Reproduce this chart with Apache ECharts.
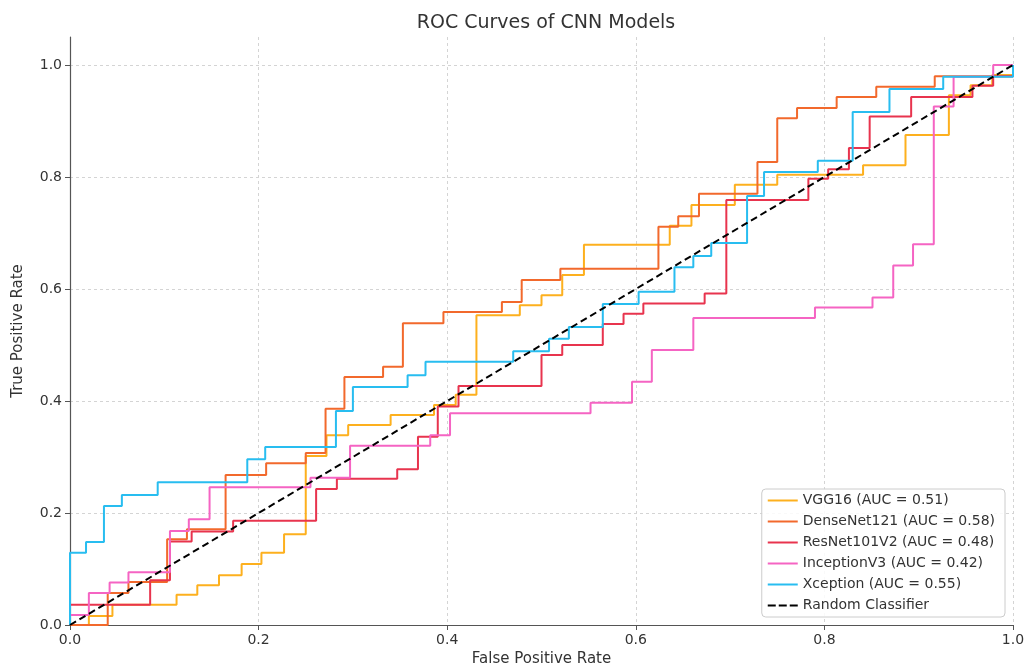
<!DOCTYPE html>
<html>
<head>
<meta charset="utf-8">
<script src="https://cdn.jsdelivr.net/npm/echarts@6/dist/echarts.min.js"></script>
<style>html,body{margin:0;padding:0;background:#fff}#c{width:1027px;height:666px}</style>
</head>
<body>
<div id="c"></div>
<script>
const titleText = 'ROC Curves of CNN Models';
const xTicks = [0, 0.2, 0.4, 0.6, 0.8, 1.0];
const yTicks = [0, 0.2, 0.4, 0.6, 0.8, 1.0];
const seriesNames = ['VGG16 (AUC = 0.51)', 'DenseNet121 (AUC = 0.58)', 'ResNet101V2 (AUC = 0.48)', 'InceptionV3 (AUC = 0.42)', 'Xception (AUC = 0.55)', 'Random Classifier'];
const seriesColors = ['#FDB01E', '#F2692C', '#E8344E', '#F564C3', '#28BDF0', '#000000'];

const vgg16 = [[0,0],[0.02,0],[0.02,0.016],[0.045,0.016],[0.045,0.036],[0.113,0.036],[0.113,0.054],[0.135,0.054],[0.135,0.071],[0.158,0.071],[0.158,0.089],[0.182,0.089],[0.182,0.109],[0.203,0.109],[0.203,0.129],[0.227,0.129],[0.227,0.162],[0.25,0.162],[0.25,0.302],[0.272,0.302],[0.272,0.339],[0.295,0.339],[0.295,0.357],[0.34,0.357],[0.34,0.375],[0.386,0.375],[0.386,0.393],[0.409,0.393],[0.409,0.411],[0.431,0.411],[0.431,0.553],[0.477,0.553],[0.477,0.571],[0.5,0.571],[0.5,0.589],[0.522,0.589],[0.522,0.625],[0.545,0.625],[0.545,0.679],[0.636,0.679],[0.636,0.713],[0.659,0.713],[0.659,0.75],[0.705,0.75],[0.705,0.786],[0.75,0.786],[0.75,0.804],[0.841,0.804],[0.841,0.821],[0.886,0.821],[0.886,0.875],[0.932,0.875],[0.932,0.946],[0.955,0.946],[0.955,0.964],[0.978,0.964],[0.978,0.982],[1,0.982],[1,1]];

const densenet121 = [[0,0],[0.04,0],[0.04,0.057],[0.062,0.057],[0.062,0.077],[0.103,0.077],[0.103,0.153],[0.124,0.153],[0.124,0.171],[0.165,0.171],[0.165,0.268],[0.208,0.268],[0.208,0.289],[0.25,0.289],[0.25,0.307],[0.271,0.307],[0.271,0.386],[0.291,0.386],[0.291,0.443],[0.332,0.443],[0.332,0.461],[0.353,0.461],[0.353,0.539],[0.396,0.539],[0.396,0.559],[0.458,0.559],[0.458,0.577],[0.479,0.577],[0.479,0.616],[0.52,0.616],[0.52,0.636],[0.624,0.636],[0.624,0.711],[0.645,0.711],[0.645,0.73],[0.667,0.73],[0.667,0.77],[0.729,0.77],[0.729,0.827],[0.75,0.827],[0.75,0.905],[0.771,0.905],[0.771,0.923],[0.813,0.923],[0.813,0.943],[0.855,0.943],[0.855,0.961],[0.917,0.961],[0.917,0.98],[1,0.98],[1,1]];

const resnet101v2 = [[0,0],[0,0.036],[0.085,0.036],[0.085,0.08],[0.106,0.08],[0.106,0.149],[0.129,0.149],[0.129,0.167],[0.173,0.167],[0.173,0.186],[0.261,0.186],[0.261,0.243],[0.283,0.243],[0.283,0.261],[0.347,0.261],[0.347,0.278],[0.369,0.278],[0.369,0.336],[0.39,0.336],[0.39,0.39],[0.412,0.39],[0.412,0.427],[0.5,0.427],[0.5,0.482],[0.522,0.482],[0.522,0.5],[0.565,0.5],[0.565,0.5375],[0.587,0.5375],[0.587,0.556],[0.608,0.556],[0.608,0.574],[0.673,0.574],[0.673,0.592],[0.696,0.592],[0.696,0.759],[0.783,0.759],[0.783,0.797],[0.804,0.797],[0.804,0.814],[0.826,0.814],[0.826,0.852],[0.848,0.852],[0.848,0.908],[0.892,0.908],[0.892,0.943],[0.957,0.943],[0.957,0.963],[0.979,0.963],[0.979,0.98],[1,0.98],[1,1]];

const inceptionv3 = [[0,0],[0,0.018],[0.02,0.018],[0.02,0.057],[0.042,0.057],[0.042,0.076],[0.062,0.076],[0.062,0.094],[0.106,0.094],[0.106,0.168],[0.126,0.168],[0.126,0.189],[0.148,0.189],[0.148,0.246],[0.255,0.246],[0.255,0.263],[0.297,0.263],[0.297,0.32],[0.382,0.32],[0.382,0.339],[0.403,0.339],[0.403,0.378],[0.552,0.378],[0.552,0.397],[0.596,0.397],[0.596,0.4345],[0.617,0.4345],[0.617,0.491],[0.661,0.491],[0.661,0.548],[0.79,0.548],[0.79,0.567],[0.851,0.567],[0.851,0.585],[0.873,0.585],[0.873,0.642],[0.894,0.642],[0.894,0.68],[0.916,0.68],[0.916,0.926],[0.937,0.926],[0.937,0.979],[0.979,0.979],[0.979,1],[1,1]];

const xception = [[0,0],[0,0.129],[0.017,0.129],[0.017,0.148],[0.036,0.148],[0.036,0.2125],[0.055,0.2125],[0.055,0.232],[0.093,0.232],[0.093,0.255],[0.188,0.255],[0.188,0.296],[0.207,0.296],[0.207,0.318],[0.282,0.318],[0.282,0.382],[0.3,0.382],[0.3,0.425],[0.358,0.425],[0.358,0.446],[0.377,0.446],[0.377,0.47],[0.47,0.47],[0.47,0.489],[0.508,0.489],[0.508,0.511],[0.529,0.511],[0.529,0.532],[0.565,0.532],[0.565,0.573],[0.603,0.573],[0.603,0.595],[0.641,0.595],[0.641,0.639],[0.661,0.639],[0.661,0.659],[0.68,0.659],[0.68,0.682],[0.718,0.682],[0.718,0.766],[0.736,0.766],[0.736,0.809],[0.793,0.809],[0.793,0.829],[0.83,0.829],[0.83,0.916],[0.869,0.916],[0.869,0.957],[0.926,0.957],[0.926,0.979],[1,0.979],[1,1]];

const randomClassifier = [[0,0],[1,1]];

const allData = [vgg16, densenet121, resnet101v2, inceptionv3, xception, randomClassifier];

const chart = echarts.init(document.getElementById('c'), null, {renderer: 'canvas'});
const FONT = 'DejaVu Sans';
const SOLID_ICON = 'path://M0,0 H30 V2 H0 Z';
const DASH_ICON = 'path://M0,0 H8 V2 H0 Z M11,0 H19 V2 H11 Z M22,0 H30 V2 H22 Z';

const series = allData.map((d, i) => ({
  name: seriesNames[i],
  type: 'line',
  data: d,
  showSymbol: false,
  symbol: 'none',
  animation: false,
  z: i === 5 ? 10 : 2 + i,
  lineStyle: {
    color: seriesColors[i],
    width: 2,
    type: i === 5 ? [7, 4] : 'solid'
  },
  itemStyle: {color: seriesColors[i]}
}));

chart.setOption({
  animation: false,
  backgroundColor: '#ffffff',
  title: {
    text: titleText,
    left: 541,
    top: 9,
    textAlign: 'center',
    textStyle: {fontFamily: FONT, fontSize: 19, fontWeight: 'normal', color: '#333'}
  },
  grid: {left: 70, right: 14, top: 37, bottom: 41, containLabel: false, outerBoundsMode: 'none'},
  xAxis: {
    type: 'value',
    min: 0, max: 1, interval: 0.2,
    name: 'False Positive Rate',
    nameLocation: 'middle',
    nameGap: 26,
    nameTextStyle: {fontFamily: FONT, fontSize: 15, color: '#333'},
    axisLine: {show: true, onZero: false, lineStyle: {color: '#555', width: 1.2}},
    axisTick: {show: true, length: 5, lineStyle: {color: '#555'}},
    axisLabel: {fontFamily: FONT, fontSize: 14, color: '#333', margin: 8,
      formatter: v => (xTicks.some(t => Math.abs(t - v) < 1e-9) ? v.toFixed(1) : '')},
    splitLine: {show: true, lineStyle: {color: '#d4d4d4', type: [3, 3], width: 1}}
  },
  yAxis: {
    type: 'value',
    min: 0, max: 1.05, interval: 0.2,
    name: 'True Positive Rate',
    nameLocation: 'middle',
    nameGap: 44,
    nameTextStyle: {fontFamily: FONT, fontSize: 15, color: '#333'},
    axisLine: {show: true, onZero: false, lineStyle: {color: '#555', width: 1.2}},
    axisTick: {show: true, length: 5, lineStyle: {color: '#555'}},
    axisLabel: {fontFamily: FONT, fontSize: 14, color: '#333', margin: 8, showMaxLabel: false,
      formatter: v => (yTicks.some(t => Math.abs(t - v) < 1e-9) ? v.toFixed(1) : '')},
    splitLine: {show: true, showMaxLine: false, lineStyle: {color: '#d4d4d4', type: [3, 3], width: 1}}
  },
  legend: {
    orient: 'vertical',
    right: 22,
    bottom: 49,
    padding: [4, 10, 4, 6],
    itemGap: 6,
    itemWidth: 30,
    itemHeight: 2,
    borderColor: '#cccccc',
    borderWidth: 1,
    borderRadius: 4,
    backgroundColor: 'rgba(255,255,255,0.85)',
    textStyle: {fontFamily: FONT, fontSize: 14, color: '#333', lineHeight: 15},
    data: seriesNames.map((n, i) => ({name: n, icon: i === 5 ? DASH_ICON : SOLID_ICON, itemStyle: {color: seriesColors[i]}}))
  },
  series: series
});
</script>
</body>
</html>
